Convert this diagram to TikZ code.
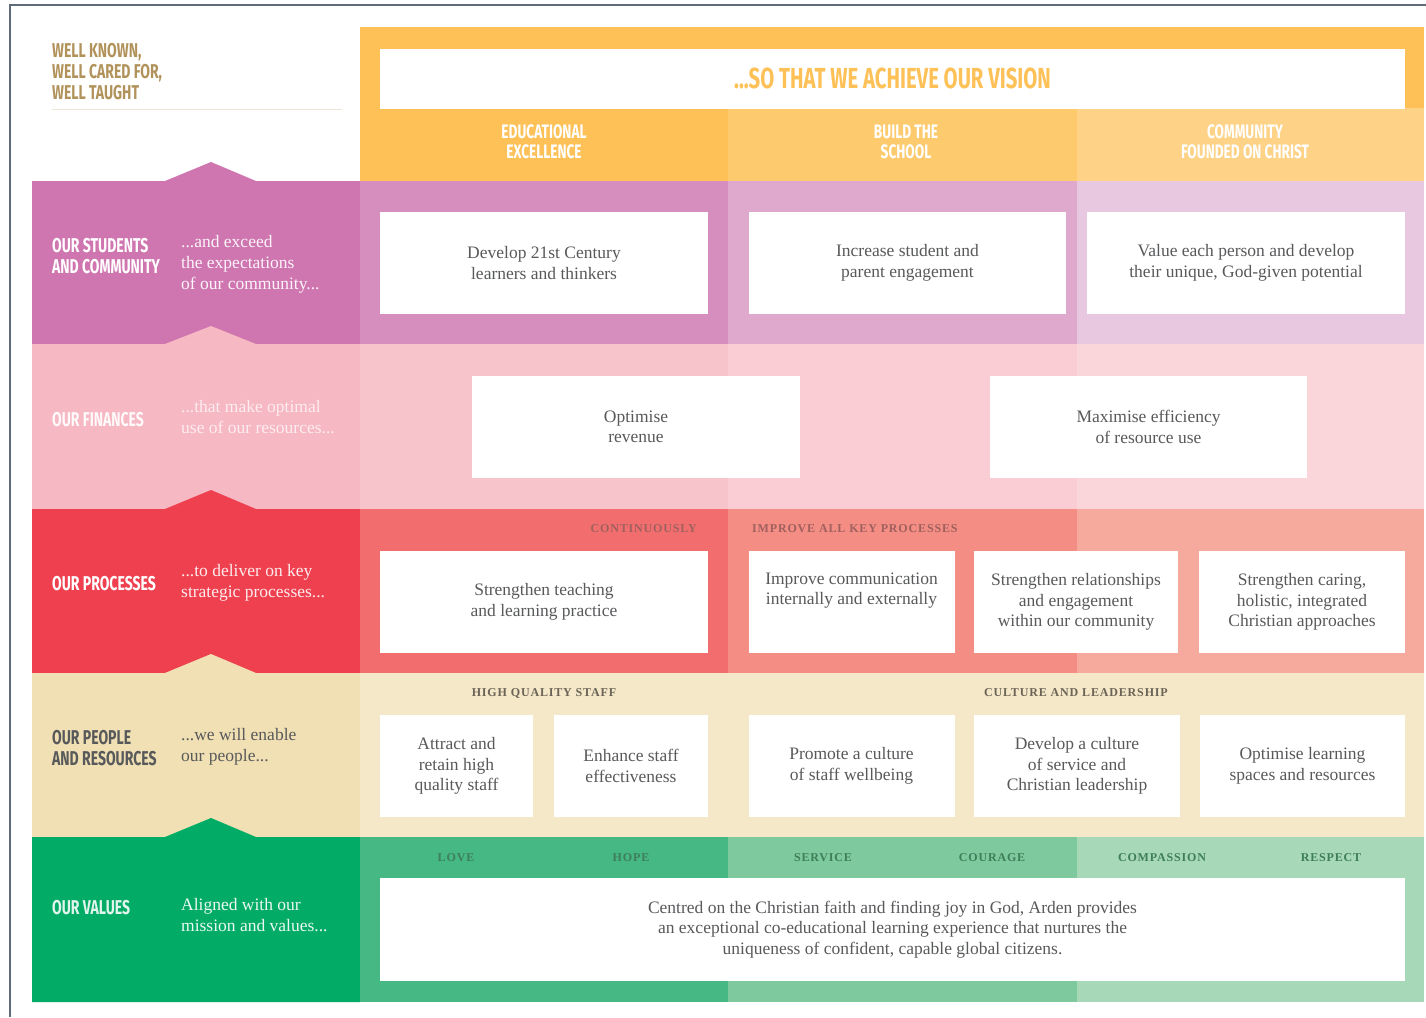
\documentclass[tikz,border=0pt]{standalone}
\usepackage{fontspec}
\setmainfont{Liberation Serif}
\newfontfamily\cond[FakeStretch=0.7]{Fira Sans}
\newfontfamily\capsfont[LetterSpace=7]{Liberation Serif}
\definecolor{frame}{HTML}{5F6B78}
\definecolor{gold}{HTML}{B0925A}
\definecolor{goldline}{HTML}{EEE7D8}
\definecolor{or1}{HTML}{FDC158}
\definecolor{or2}{HTML}{FECA6E}
\definecolor{or3}{HTML}{FED287}
\definecolor{pu0}{HTML}{CF76B0}
\definecolor{pu1}{HTML}{D68EBE}
\definecolor{pu2}{HTML}{DFA9CD}
\definecolor{pu3}{HTML}{E8C7E0}
\definecolor{pk0}{HTML}{F6B8C2}
\definecolor{pk1}{HTML}{F8C4CC}
\definecolor{pk2}{HTML}{F9CDD3}
\definecolor{pk3}{HTML}{FAD6DB}
\definecolor{rd0}{HTML}{EE404F}
\definecolor{rd1}{HTML}{F26E6E}
\definecolor{rd2}{HTML}{F48D84}
\definecolor{rd3}{HTML}{F6AA9E}
\definecolor{tn0}{HTML}{F0E0B3}
\definecolor{tn1}{HTML}{F4E8C8}
\definecolor{gr0}{HTML}{02AC66}
\definecolor{gr1}{HTML}{45B883}
\definecolor{gr2}{HTML}{7EC99D}
\definecolor{gr3}{HTML}{A7D8B8}
\definecolor{txt}{HTML}{58595B}
\definecolor{rdlab}{HTML}{A0605E}
\definecolor{tnlab}{HTML}{6A6356}
\definecolor{grlab}{HTML}{3E7E5C}
\tikzset{
  wbox/.style={fill=white, text=txt, align=center, inner sep=0pt,
    font=\fontsize{17.5}{20.5}\selectfont},
  head/.style={anchor=west, align=left, inner sep=0pt,
    font=\cond\bfseries\fontsize{20}{21}\selectfont},
  tag/.style={anchor=west, align=left, inner sep=0pt,
    font=\fontsize{17.5}{21}\selectfont},
  colhead/.style={align=center, inner sep=0pt, text=white,
    font=\cond\bfseries\fontsize{19.5}{20}\selectfont},
  smallcap/.style={inner sep=0pt, font=\capsfont\bfseries\fontsize{12}{13}\selectfont}
}
\begin{document}
\begin{tikzpicture}[x=1pt,y=-1pt]
\useasboundingbox (0,0) rectangle (1426,1017);
% outer frame
\draw[frame, line width=2.5pt] (10,1017) -- (10,5) -- (1426,5);
% title block
\node[head, anchor=north west, text=gold] (motto) at (52,43) {WELL KNOWN,\\WELL CARED FOR,\\WELL TAUGHT};
\draw[goldline, line width=1pt] (52,109) -- (342,109);
% vision band
\fill[or1] (360,27) rectangle (1424,108);
\fill[or1] (360,108) rectangle (728,181);
\fill[or2] (728,108) rectangle (1077,181);
\fill[or3] (1077,108) rectangle (1424,181);
\node[fill=white, minimum width=1025pt, minimum height=60pt, inner sep=0pt, text=or1,
  font=\cond\bfseries\fontsize{29}{30}\selectfont] (vision) at (892.5,78.5) {...SO THAT WE ACHIEVE OUR VISION};
\node[colhead] (c1) at (544,142) {EDUCATIONAL\\EXCELLENCE};
\node[colhead] (c2) at (906,142) {BUILD THE\\SCHOOL};
\node[colhead] (c3) at (1245,142) {COMMUNITY\\FOUNDED ON CHRIST};
% row 1 purple
\fill[pu0] (32,181) -- (165,181) -- (211,162) -- (256,181) -- (360,181) -- (360,344) -- (32,344) -- cycle;
\fill[pu1] (360,181) rectangle (728,344);
\fill[pu2] (728,181) rectangle (1077,344);
\fill[pu3] (1077,181) rectangle (1424,344);
% row 2 pink
\fill[pk0] (32,344) -- (165,344) -- (211,326) -- (256,344) -- (360,344) -- (360,509) -- (32,509) -- cycle;
\fill[pk1] (360,344) rectangle (728,509);
\fill[pk2] (728,344) rectangle (1077,509);
\fill[pk3] (1077,344) rectangle (1424,509);
% row 3 red
\fill[rd0] (32,509) -- (165,509) -- (211,490) -- (256,509) -- (360,509) -- (360,673) -- (32,673) -- cycle;
\fill[rd1] (360,509) rectangle (728,673);
\fill[rd2] (728,509) rectangle (1077,673);
\fill[rd3] (1077,509) rectangle (1424,673);
% row 4 tan
\fill[tn0] (32,673) -- (165,673) -- (211,654) -- (256,673) -- (360,673) -- (360,837) -- (32,837) -- cycle;
\fill[tn1] (360,673) rectangle (1424,837);
% row 5 green
\fill[gr0] (32,837) -- (165,837) -- (211,818) -- (256,837) -- (360,837) -- (360,1002) -- (32,1002) -- cycle;
\fill[gr1] (360,837) rectangle (728,1002);
\fill[gr2] (728,837) rectangle (1077,1002);
\fill[gr3] (1077,837) rectangle (1424,1002);
% left headings and taglines
\node[head, text=white] (h1) at (52,256.5) {OUR STUDENTS\\AND COMMUNITY};
\node[tag, text=white!92!pu0] (t1) at (181,264) {...and exceed\\the expectations\\of our community...};
\node[head, text=white!92!pk0] (h2) at (52,420) {OUR FINANCES};
\node[tag, text=white!75!pk0] (t2) at (181,417.5) {...that make optimal\\use of our resources...};
\node[head, text=white] (h3) at (52,584) {OUR PROCESSES};
\node[tag, text=white!90!rd0] (t3) at (181,582.5) {...to deliver on key\\strategic processes...};
\node[head, text=txt] (h4) at (52,748.5) {OUR PEOPLE\\AND RESOURCES};
\node[tag, text=txt] (t4) at (181,746.5) {...we will enable\\our people...};
\node[head, text=white!88!gr0] (h5) at (52,908) {OUR VALUES};
\node[tag, text=white!92!gr0] (t5) at (181,915.5) {Aligned with our\\mission and values...};
% row 1 boxes
\node[wbox, minimum width=328pt, minimum height=102pt] (s1) at (544,263) {Develop 21st Century\\learners and thinkers};
\node[wbox, minimum width=317pt, minimum height=102pt] (s2) at (907.5,263) {Increase student and\\parent engagement};
\node[wbox, minimum width=318pt, minimum height=102pt] (s3) at (1246,263) {Value each person and develop\\their unique, God-given potential};
% row 2 boxes
\node[wbox, minimum width=328pt, minimum height=102pt] (f1) at (636,427) {Optimise\\revenue};
\node[wbox, minimum width=317pt, minimum height=102pt] (f2) at (1148.5,427) {Maximise efficiency\\of resource use};
% row 3 labels and boxes
\node[smallcap, anchor=east, text=rdlab] (l1) at (697,529) {CONTINUOUSLY};
\node[smallcap, anchor=west, text=rdlab] (l2) at (752,529) {IMPROVE ALL KEY PROCESSES};
\node[wbox, minimum width=328pt, minimum height=102pt] (p1) at (544,602) {Strengthen teaching\\and learning practice};
\node[wbox, minimum width=206pt, minimum height=102pt] (p2) at (851.5,602) {Improve communication\\internally and externally\\\strut};
\node[wbox, minimum width=204pt, minimum height=102pt] (p3) at (1076,602) {Strengthen relationships\\and engagement\\within our community};
\node[wbox, minimum width=206pt, minimum height=102pt] (p4) at (1302,602) {Strengthen caring,\\holistic, integrated\\Christian approaches};
% row 4 labels and boxes
\node[smallcap, text=tnlab] (l3) at (544,693) {HIGH QUALITY STAFF};
\node[smallcap, text=tnlab] (l4) at (1076,693) {CULTURE AND LEADERSHIP};
\node[wbox, minimum width=153pt, minimum height=102pt] (q1) at (456.5,766) {Attract and\\retain high\\quality staff};
\node[wbox, minimum width=154pt, minimum height=102pt] (q2) at (631,766) {Enhance staff\\effectiveness};
\node[wbox, minimum width=206pt, minimum height=102pt] (q3) at (851.5,766) {Promote a culture\\of staff wellbeing};
\node[wbox, minimum width=206pt, minimum height=102pt] (q4) at (1077,766) {Develop a culture\\of service and\\Christian leadership};
\node[wbox, minimum width=205pt, minimum height=102pt] (q5) at (1302.5,766) {Optimise learning\\spaces and resources};
% row 5 values and statement
\node[smallcap, text=grlab] (v1) at (456,858) {LOVE};
\node[smallcap, text=grlab] (v2) at (631,858) {HOPE};
\node[smallcap, text=grlab] (v3) at (823,858) {SERVICE};
\node[smallcap, text=grlab] (v4) at (992,858) {COURAGE};
\node[smallcap, text=grlab] (v5) at (1162,858) {COMPASSION};
\node[smallcap, text=grlab] (v6) at (1331,858) {RESPECT};
\node[wbox, minimum width=1025pt, minimum height=103pt] (mission) at (892.5,929.5) {Centred on the Christian faith and finding joy in God, Arden provides\\an exceptional co-educational learning experience that nurtures the\\uniqueness of confident, capable global citizens.};
\end{tikzpicture}
\end{document}
